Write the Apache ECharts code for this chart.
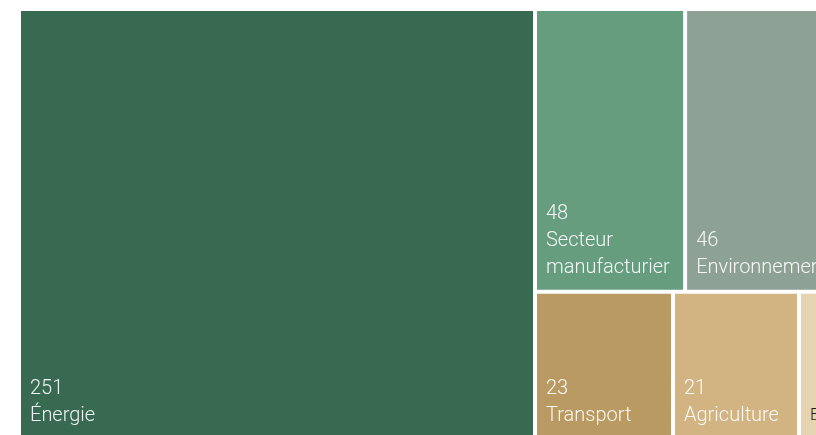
<!DOCTYPE html>
<html>
<head>
<meta charset="utf-8">
<script src="https://cdn.jsdelivr.net/npm/echarts@6/dist/echarts.min.js"></script>
<style>
  html, body { margin: 0; padding: 0; background: #fff; }
  #chart { width: 816px; height: 435px; }
</style>
</head>
<body>
<div id="chart"></div>
<script>
const sectors = ["Énergie", "Secteur manufacturier", "Environnement", "Transport", "Agriculture", "Eau"];
const amounts = [251, 48, 46, 23, 21, 5];

const tileColors = ["#386a51", "#669d7e", "#8da195", "#b89a62", "#d2b382", "#e6d4b0"];
const LINE_H = 27;
const PAD_BOTTOM = 8;

const chart = echarts.init(document.getElementById("chart"));

const data = sectors.map((name, i) => {
  const item = { name: name, value: amounts[i], itemStyle: { color: tileColors[i] } };
  // the tiny tile gets its label on one line, in dark text
  if (name === "Eau") {
    item.label = {
      formatter: "{n|{b}}  {v|{c}}",
      rich: {
        n: { fontSize: 17, lineHeight: LINE_H, color: "#1e1e1e", fontFamily: "Roboto", fontWeight: 300 },
        v: { fontSize: 19, lineHeight: LINE_H, color: "#1e1e1e", fontFamily: "Roboto", fontWeight: 300 },
      },
    };
  }
  return item;
});

chart.setOption({
  animation: false,
  series: [
    {
      type: "treemap",
      left: 21,
      top: 11,
      width: 806,
      height: 426,
      roam: false,
      nodeClick: false,
      drillDownIcon: "",
      breadcrumb: { show: false },
      itemStyle: { borderWidth: 0, gapWidth: 4, borderColor: "#fff" },
      label: {
        show: true,
        position: "insideTopLeft",
        distance: 0,
        padding: [0, 4, 0, 9],
        overflow: "none",
        formatter: (p) => "{v|" + p.value + "}\n{n|" + p.name.replace(" ", "\n") + "}",
        rich: {
          v: { fontSize: 20, lineHeight: LINE_H, color: "rgba(255,255,255,0.92)", fontFamily: "Roboto", fontWeight: 300 },
          n: { fontSize: 20, lineHeight: LINE_H, color: "rgba(255,255,255,0.92)", fontFamily: "Roboto", fontWeight: 300 },
        },
      },
      // treemap labels sit at the top of the tile; push them to the bottom
      labelLayout: (p) => {
        const lines = String(p.text).split("\n").length;
        return {
          x: p.rect.x,
          y: p.rect.y + p.rect.height - lines * LINE_H - PAD_BOTTOM,
          align: "left",
          verticalAlign: "top",
        };
      },
      emphasis: { disabled: true },
      data: data,
    },
  ],
});
</script>
</body>
</html>
